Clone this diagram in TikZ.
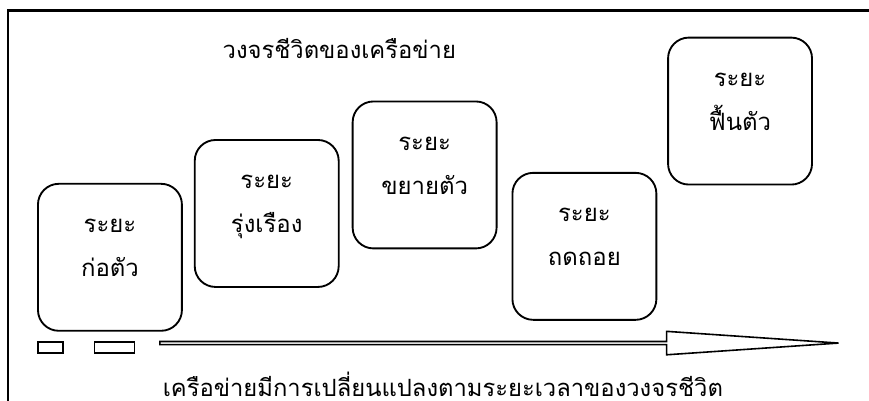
\documentclass[tikz,border=0pt]{standalone}
\usepackage{fontspec}
\setmainfont[Script=Thai]{Loma}
\usetikzlibrary{positioning,shapes.arrows}

\begin{document}
\begin{tikzpicture}[
    phasenode/.style={rectangle, rounded corners=0.55cm, draw=black, line width=1.4pt, minimum width=3.81cm, minimum height=3.89cm, align=center, text depth=0.5cm, font=\fontsize{18}{33}\selectfont},
    tagnode/.style={rectangle, draw=black, line width=1.2pt, minimum height=0.29cm, inner sep=0pt},
    captionnode/.style={font=\fontsize{17.9}{22}\selectfont}
    ]
        \useasboundingbox (0,0) rectangle (23.0,10.61);
        %Frame
        \draw[line width=2pt] (0.21,0) -- (0.21,10.34) -- (23.0,10.34);

        %Nodes
        \node[phasenode] 
            (pForm) at (2.91,3.80)                   {ระยะ\\ก่อตัว};
        \node[phasenode] 
            (pRise) [right=0.29cm of pForm, yshift=1.16cm]  {ระยะ\\รุ่งเรือง};
        \node[phasenode] 
            (pGrow) [right=0.32cm of pRise, yshift=1.02cm]  {ระยะ\\ขยายตัว};
        \node[phasenode] 
            (pFall) [right=0.37cm of pGrow, yshift=-1.89cm] {ระยะ\\ถดถอย};
        \node[phasenode] 
            (pBack) [right=0.26cm of pFall, yshift=3.58cm]  {ระยะ\\ฟื้นตัว};

        \node[tagnode, minimum width=0.66cm] 
            (tagA) at (1.34,1.415)              {};
        \node[tagnode, minimum width=1.06cm] 
            (tagB) [right=0.79cm of tagA]       {};

        %Time arrow
        \node[single arrow, draw=black, line width=1.2pt, inner sep=0pt, anchor=west,
              minimum width=0.62cm, minimum height=17.96cm,
              single arrow head extend=0.14cm, single arrow tip angle=7.8]
            (timeArrow) at (4.21,1.53)          {};

        %Texts
        \node[captionnode] 
            (title) at (8.98,9.33)              {วงจรชีวิตของเครือข่าย};
        \node[captionnode] 
            (timeNote) at (11.72,0.45)          {เครือข่ายมีการเปลี่ยนแปลงตามระยะเวลาของวงจรชีวิต};
    \end{tikzpicture}
\end{document}
